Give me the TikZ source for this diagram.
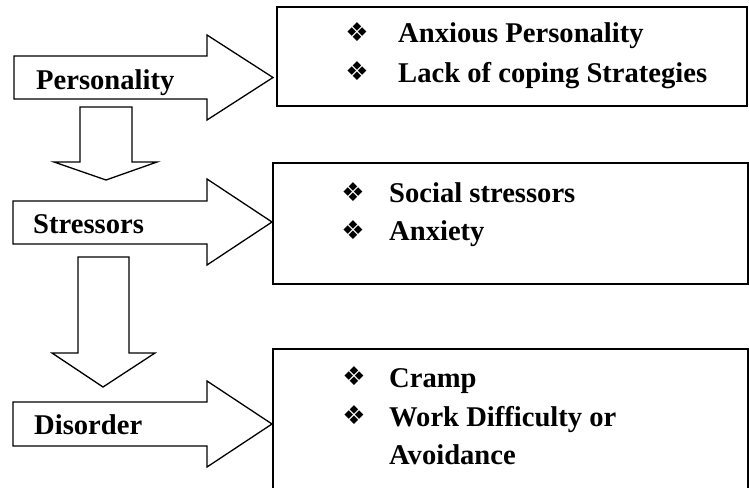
\documentclass[tikz,border=0pt]{standalone}
\usepackage{fontspec}
\setmainfont{Liberation Serif}
\newfontfamily\dejavu{DejaVu Sans}
\begin{document}
\begin{tikzpicture}[x=1pt,y=-1pt,
  blockarrow/.style={draw=black,line width=1.3pt,fill=white,line join=miter},
  infobox/.style={draw=black,line width=2pt},
  lbl/.style={anchor=base west,inner sep=0pt,font=\fontsize{28.6}{34}\selectfont\bfseries},
  bul/.style={anchor=center,inner sep=0pt,font=\fontsize{26}{30}\selectfont\dejavu}]
\useasboundingbox (0,0) rectangle (749,487);
% right-pointing block arrows
\draw[blockarrow] (14,56) -- (207,56) -- (207,35) -- (273,77.5) -- (207,120) -- (207,99) -- (14,99) -- cycle;
\draw[blockarrow] (13,201) -- (207,201) -- (207,179) -- (272,222) -- (207,265) -- (207,244) -- (13,244) -- cycle;
\draw[blockarrow] (13,402) -- (207,402) -- (207,381) -- (272,424) -- (207,467) -- (207,446) -- (13,446) -- cycle;
% down block arrows
\draw[blockarrow] (80,107) -- (132,107) -- (132,162) -- (157,162) -- (106,180) -- (54,162) -- (80,162) -- cycle;
\draw[blockarrow] (78,257) -- (129,257) -- (129,353) -- (155,353) -- (103,387) -- (52,353) -- (78,353) -- cycle;
% labels in arrows
\node[lbl] (personality) at (36,89) {Personality};
\node[lbl] (stressors) at (33,233) {Stressors};
\node[lbl] (disorder) at (34,434) {Disorder};
% boxes
\draw[infobox] (277,7) rectangle (747,106);
\draw[infobox] (273,163) rectangle (748,284);
\draw[infobox] (273,495) -- (273,349) -- (748,349) -- (748,495);
% box 1 text
\node[bul] (b11) at (357,32) {❖};
\node[lbl] (t11) at (398,43) {Anxious Personality};
\node[bul] (b12) at (357,71) {❖};
\node[lbl] (t12) at (398,82) {Lack of coping Strategies};
% box 2 text
\node[bul] (b21) at (353,192) {❖};
\node[lbl] (t21) at (389,202) {Social stressors};
\node[bul] (b22) at (353,230) {❖};
\node[lbl] (t22) at (389,240) {Anxiety};
% box 3 text
\node[bul] (b31) at (354,376) {❖};
\node[lbl] (t31) at (389,387) {Cramp};
\node[bul] (b32) at (354,415) {❖};
\node[lbl] (t32) at (389,426) {Work Difficulty or};
\node[lbl] (t33) at (389,464) {Avoidance};
\end{tikzpicture}
\end{document}
